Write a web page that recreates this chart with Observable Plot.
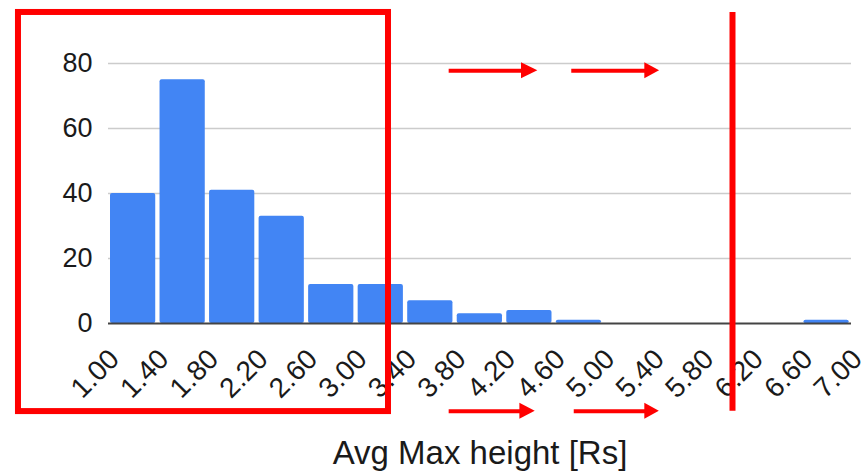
<!DOCTYPE html>
<html>
<head>
<meta charset="utf-8">
<script src="https://cdn.jsdelivr.net/npm/d3@7"></script>
<script src="https://cdn.jsdelivr.net/npm/@observablehq/plot@0.6"></script>
<style>
  html, body { margin: 0; padding: 0; background: #fff; }
</style>
</head>
<body>
<div id="chart"></div>
<script>
// ---- Data ----
const binStarts = [1.0, 1.4, 1.8, 2.2, 2.6, 3.0, 3.4, 3.8, 4.2, 4.6, 5.0, 5.4, 5.8, 6.2, 6.6];
const binEnds   = [1.4, 1.8, 2.2, 2.6, 3.0, 3.4, 3.8, 4.2, 4.6, 5.0, 5.4, 5.8, 6.2, 6.6, 7.0];
const counts    = [40, 75, 41, 33, 12, 12, 7, 3, 4, 1, 0, 0, 0, 0, 1];
const xTicks    = [1.0, 1.4, 1.8, 2.2, 2.6, 3.0, 3.4, 3.8, 4.2, 4.6, 5.0, 5.4, 5.8, 6.2, 6.6, 7.0];
const yTicks    = [0, 20, 40, 60, 80];
const gridTicks = [20, 40, 60, 80];
const xTitle    = "Avg Max height [Rs]";

// ---- Red annotations (in data coordinates) ----
const boxX1 = [0.273], boxX2 = [3.261], boxY1 = [-27.1], boxY2 = [95.7];
const cutX = [6.039], cutY1 = [-27.0], cutY2 = [95.7];
const arrowStart = [3.751, 4.741, 3.751, 4.761];
const arrowHead  = [4.335, 5.331, 4.322, 5.331];
const arrowTip   = [4.467, 5.450, 4.446, 5.448];
const arrowY     = [77.75, 77.75, -27.0, -27.0];
const headHalf   = 2.46;

const bins = binStarts.map((s, i) => ({x0: s, x1: binEnds[i], count: counts[i]}));
const box = boxX1.map((d, i) => ({x1: d, x2: boxX2[i], y1: boxY1[i], y2: boxY2[i]}));
const cut = cutX.map((d, i) => ({x: d, y1: cutY1[i], y2: cutY2[i]}));
const shafts = arrowStart.map((s, i) => ({x1: s, x2: arrowHead[i] + 0.02, y: arrowY[i]}));
const heads = arrowStart.flatMap((s, i) => [
  {id: i, x: arrowHead[i], y1: arrowY[i] - headHalf, y2: arrowY[i] + headHalf},
  {id: i, x: arrowTip[i], y1: arrowY[i], y2: arrowY[i]}
]);

const red = "#ff0000";
const ink = "#1a1a1a";

const chart = Plot.plot({
  width: 864,
  height: 471,
  marginLeft: 108,
  marginRight: 13,
  marginTop: 63,
  marginBottom: 148,
  style: {fontFamily: "'Liberation Sans', Arial, sans-serif", color: ink, background: "#fff", overflow: "visible"},
  x: {domain: [1, 7], type: "linear"},
  y: {domain: [0, 80]},
  marks: [
    Plot.gridY(gridTicks, {stroke: "#cccccc", strokeOpacity: 1, strokeWidth: 1.4}),
    Plot.rectY(bins, {x1: "x0", x2: "x1", y: "count", fill: "#4285f4", insetLeft: 2, insetRight: 2.3, rx: 2}),
    Plot.ruleY([0], {stroke: "#444", strokeWidth: 2}),
    Plot.axisY(yTicks, {tickSize: 0, tickPadding: 16, label: null, fontSize: 27, fill: ink}),
    Plot.axisX(xTicks, {tickSize: 0, tickPadding: 31, tickRotate: -45, dx: 6, fontSize: 28, fill: ink, tickFormat: d3.format(".2f"), label: null}),
    Plot.text([xTitle], {frameAnchor: "bottom", lineAnchor: "middle", dy: 130, fontSize: 33, fill: ink}),
    // annotations
    Plot.rect(box, {x1: "x1", x2: "x2", y1: "y1", y2: "y2", fill: "none", stroke: red, strokeWidth: 6}),
    Plot.ruleX(cut, {x: "x", y1: "y1", y2: "y2", stroke: red, strokeWidth: 6}),
    Plot.ruleY(shafts, {x1: "x1", x2: "x2", y: "y", stroke: red, strokeWidth: 4}),
    Plot.areaY(heads, {x: "x", y1: "y1", y2: "y2", z: "id", fill: red, curve: "linear"})
  ]
});
document.getElementById("chart").appendChild(chart);
</script>
</body>
</html>
